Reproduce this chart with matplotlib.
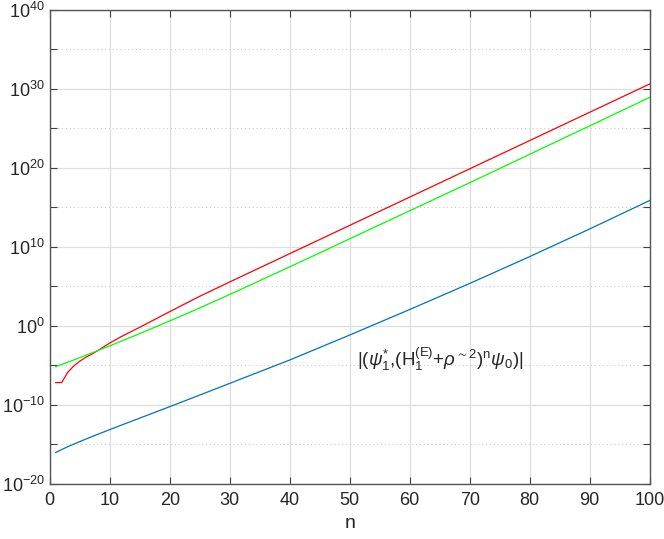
import matplotlib

matplotlib.use("Agg")
import matplotlib.pyplot as plt  # noqa: E402
import numpy as np  # noqa: E402
from matplotlib.ticker import FixedLocator, FuncFormatter, NullFormatter  # noqa: E402

plt.rcParams["font.family"] = ["Liberation Sans", "DejaVu Sans"]
plt.rcParams["mathtext.fontset"] = "custom"
plt.rcParams["mathtext.rm"] = "Liberation Sans"
plt.rcParams["mathtext.it"] = "Liberation Sans:italic"
plt.rcParams["mathtext.default"] = "regular"

# log10 of each curve
n_red = [1, 2, 3, 4, 5, 6, 7, 8, 10, 12, 15, 20, 25, 30, 40, 50, 60, 70, 80, 90, 100]
log_red = [-7.2, -7.2, -5.9, -5.1, -4.5, -4.0, -3.6, -3.15, -2.2, -1.35, -0.2, 1.78,
           3.72, 5.54, 9.12, 12.7, 16.28, 19.86, 23.44, 27.02, 30.6]

n_green = [1, 5, 10, 15, 20, 25, 30, 40, 50, 60, 70, 80, 90, 100]
log_green = [-5.19, -4.05, -2.55, -1.0, 0.6, 2.25, 3.95, 7.45, 11.0, 14.55, 18.1,
             21.7, 25.3, 28.9]

n_blue = [1, 2, 3, 5, 7, 10, 15, 20, 25, 30, 40, 50, 60, 70, 80, 90, 100]
log_blue = [-16.05, -15.67, -15.32, -14.67, -14.05, -13.15, -11.7, -10.25, -8.78, -7.3,
            -4.34, -1.18, 2.05, 5.35, 8.75, 12.25, 15.85]

y_major = [-20, -10, 0, 10, 20, 30, 40]
y_minor = [-15, -5, 5, 15, 25, 35]
x_ticks = [0, 10, 20, 30, 40, 50, 60, 70, 80, 90, 100]

label_text = (r"$|(\mathit{\psi}^{*}_{1}{,}(H^{(E)}_{1}{+}\mathit{\rho}^{{\sim}2})^{n}"
              r"\mathit{\psi}_{0})|$")

fig = plt.figure(figsize=(6.64, 5.39), dpi=100)
ax = fig.add_axes([0.0749, 0.1026, 0.9036, 0.8794])

ax.plot(n_blue, 10.0 ** np.array(log_blue), color="#0072BD", lw=0.9)
ax.plot(n_red, 10.0 ** np.array(log_red), color="#FF0000", lw=0.9)
ax.plot(n_green, 10.0 ** np.array(log_green), color="#00FF00", lw=0.9)

ax.set_yscale("log")
ax.set_xlim(0, 100)
ax.set_ylim(1e-20, 1e40)

ax.yaxis.set_major_locator(FixedLocator([10.0 ** e for e in y_major]))
ax.yaxis.set_minor_locator(FixedLocator([10.0 ** e for e in y_minor]))
ax.yaxis.set_major_formatter(FuncFormatter(lambda v, p: r"$10^{%d}$" % round(np.log10(v))))
ax.yaxis.set_minor_formatter(NullFormatter())
ax.xaxis.set_major_locator(FixedLocator(x_ticks))

ax.grid(True, which="major", color="#dedede", lw=0.9, ls="-")
ax.grid(True, which="minor", axis="y", color="#c0c0c0", lw=0.7, ls=(0, (1, 3)))
ax.set_axisbelow(True)

ax.tick_params(which="both", direction="in", top=True, right=True,
               color="#404040", labelsize=13, labelcolor="#262626")
ax.tick_params(which="both", length=5, width=0.8)
ax.tick_params(axis="x", pad=6)
for s in ax.spines.values():
    s.set_color("#555555")
    s.set_linewidth(1.0)

ax.set_xlabel("n", fontsize=14, color="#262626", labelpad=4)

ax.text(51.2, 10.0 ** -4.3, label_text, fontsize=13.5, color="#262626",
        ha="left", va="center")

fig.savefig("out.png", dpi=100)
